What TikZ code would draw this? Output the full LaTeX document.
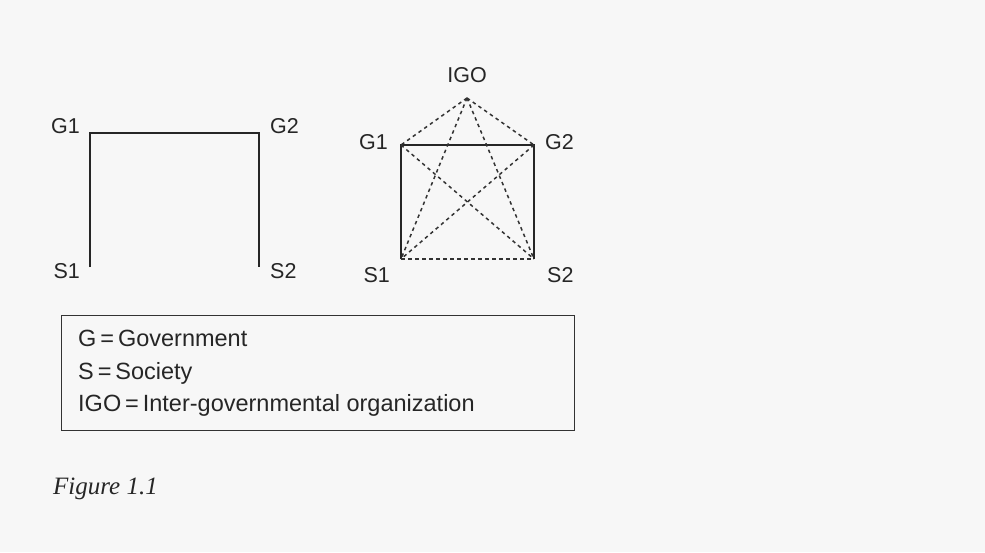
\documentclass[tikz,border=0pt]{standalone}
\usepackage{fontspec}
\setmainfont{Liberation Sans}
\newfontfamily\figfont{Liberation Serif}
\usetikzlibrary{positioning}
\tikzset{lbl/.style={
  inner sep=0pt,
  font=\fontsize{21.5}{25}\selectfont,
  text=black!85,
  },
  solidlink/.style={line width=1.5pt, draw=black!85},
  dashlink/.style={line width=1.5pt, draw=black!80, dash pattern=on 3.5pt off 3.5pt},
  keyframe/.style={draw=black!80, line width=1.3pt, minimum width=513pt, minimum height=115pt, inner sep=0pt},
}

\begin{document}
\begin{tikzpicture}[x=1pt,y=-1pt]
  \fill[black!3] (0,0) rectangle (985,552);
  \useasboundingbox (0,0) rectangle (985,552);

  \coordinate (lg1) at (90,133);
  \coordinate (lg2) at (259,133);
  \coordinate (ls1) at (90,267);
  \coordinate (ls2) at (259,267);
  \node [lbl, left=10pt of lg1, anchor=base east] (lg1l) {G1};
  \node [lbl, right=11pt of lg2, anchor=base west] (lg2l) {G2};
  \node [lbl, left=10pt of ls1, anchor=north east, yshift=4pt] (ls1l) {S1};
  \node [lbl, right=11pt of ls2, anchor=north west, yshift=4pt] (ls2l) {S2};
  \draw [solidlink] (ls1) -- (lg1) -- (lg2) -- (ls2);

  \coordinate (top) at (467,98);
  \coordinate (rg1) at (401,145);
  \coordinate (rg2) at (534,145);
  \coordinate (rs1) at (401,259);
  \coordinate (rs2) at (534,259);
  \node [lbl, above=15pt of top] (igo) {IGO};
  \node [lbl, left=13pt of rg1, anchor=base east, yshift=-4pt] (rg1l) {G1};
  \node [lbl, right=11pt of rg2, anchor=base west, yshift=-4pt] (rg2l) {G2};
  \node [lbl, left=11pt of rs1, anchor=north east, yshift=-8pt] (rs1l) {S1};
  \node [lbl, right=13pt of rs2, anchor=north west, yshift=-8pt] (rs2l) {S2};
  \draw [solidlink] (rs1) -- (rg1) -- (rg2) -- (rs2);
  \draw [dashlink] (rs1) -- (rs2);
  \draw [dashlink] (top) -- (rg1);
  \draw [dashlink] (top) -- (rg2);
  \draw [dashlink] (top) -- (rs1);
  \draw [dashlink] (top) -- (rs2);
  \draw [dashlink] (rg1) -- (rs2);
  \draw [dashlink] (rg2) -- (rs1);

  \node [keyframe, anchor=north west] (key) at (61,315) {};
  \node [lbl, font=\fontsize{23.5}{32.5}\selectfont, align=left,
         below right=15pt and 17pt of key.north west] (keytext)
    {G\,=\,Government\\S\,=\,Society\\IGO\,=\,Inter-governmental organization};

  \node [inner sep=0pt, anchor=base west, font=\figfont\itshape\fontsize{25}{30}\selectfont,
         text=black!85] (cap) at (53,494) {Figure 1.1};
\end{tikzpicture}
\end{document}
